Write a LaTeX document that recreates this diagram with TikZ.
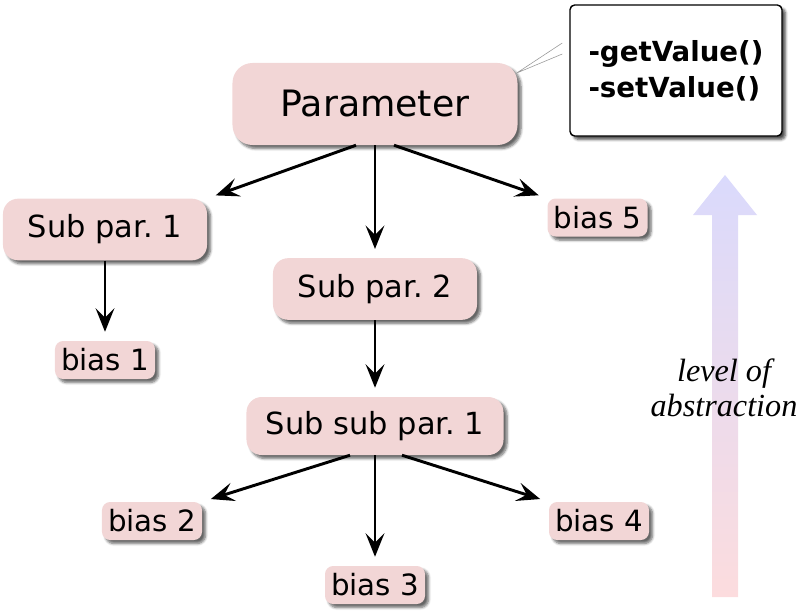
\documentclass[tikz,border=0pt]{standalone}
\usepackage{fontspec}
\setmainfont{DejaVu Sans}
\newfontfamily\notefont{Liberation Serif}
\frenchspacing
\usetikzlibrary{arrows.meta,positioning,calc,shadows.blur}
\definecolor{parpink}{RGB}{242,214,214}
\definecolor{levelblue}{RGB}{218,218,252}
\definecolor{levelpink}{RGB}{252,220,222}
\tikzset{pbox/.style={rounded corners=14pt, fill=parpink, inner sep=0pt, blur shadow={shadow xshift=3pt, shadow yshift=-3pt, shadow opacity=60, shadow blur steps=6}}}
\tikzset{parbig/.style={pbox, rounded corners=17pt, minimum width=8.55cm, minimum height=2.46cm, font=\fontsize{31}{37}\selectfont}}
\tikzset{parsub/.style={pbox, rounded corners=13pt, minimum width=6.12cm, minimum height=1.85cm, font=\fontsize{26}{31}\selectfont}}
\tikzset{parbias/.style={pbox, rounded corners=7pt, minimum width=3cm, minimum height=1.14cm, font=\fontsize{25}{30}\selectfont}}
\tikzset{methodbox/.style={draw, fill=white, rounded corners=4pt, line width=1.2pt, minimum width=6.36cm, minimum height=3.93cm, align=left, font=\bfseries\fontsize{23.6}{31}\selectfont, blur shadow={shadow xshift=3pt, shadow yshift=-3pt, shadow opacity=70, shadow blur steps=6}}}
\tikzset{arr/.style={draw, -{Stealth[length=20pt, width=16pt, inset=8pt]}, line width=2.5pt, shorten >=0.27cm}}

\begin{document}
\begin{tikzpicture}[x=0.03cm, y=-0.03cm]
	\useasboundingbox (0,0) rectangle (800,616);

	% level of abstraction
	\shade[top color=levelblue, bottom color=levelpink] (712,597) -- (712,215) -- (693,215) -- (725,175) -- (757,215) -- (738,215) -- (738,597) -- cycle;
	\node[font=\notefont\itshape\fontsize{27.5}{30}\selectfont, align=center] (lvl) at (724,388) {level of\\abstraction};

	\node[parbig] (P) at (375,104) {Parameter};
	\node[methodbox] (M) at (676,70.5) {-getValue()\\-setValue()};

	\coordinate (pin) at ($(P.east)+(-1,-31)$);
	\draw[gray!80, line width=0.5pt] ($(M.west)+(-7,-27.5)$) -- (pin) -- ($(M.west)+(-7,-16.5)$);

	\node[parsub] (S1) at (105,229.5) {Sub par. 1};
	\node[parsub] (S2) at (375,289) {Sub par. 2};
	\node[parsub, minimum width=7.71cm, minimum height=1.74cm] (SS1) at (375,426) {Sub sub par. 1};

	\node[parbias] (b1) at (105,360) {bias 1};
	\node[parbias] (b2) at (152,521) {bias 2};
	\node[parbias] (b3) at (375,585) {bias 3};
	\node[parbias] (b4) at (599,521) {bias 4};
	\node[parbias] (b5) at (597.5,217.5) {bias 5};

	\draw[arr] ($(P.south)+(-19,0)$) -- (S1.north east);
	\draw[arr] (P.south) -- (S2.north);
	\draw[arr] ($(P.south)+(19,0)$) -- (b5.north west);
	\draw[arr] (S1.south) -- (b1.north);
	\draw[arr] (S2.south) -- (SS1.north);
	\draw[arr] ($(SS1.south)+(-25,0)$) -- (b2.north east);
	\draw[arr] (SS1.south) -- (b3.north);
	\draw[arr] ($(SS1.south)+(27,0)$) -- (b4.north west);
\end{tikzpicture}
\end{document}
